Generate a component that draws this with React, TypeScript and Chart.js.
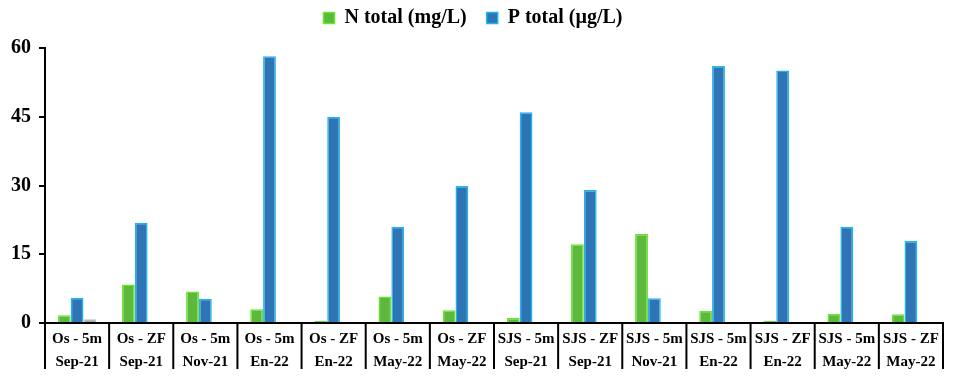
import React, { useEffect, useRef } from "react";
import { Chart, registerables } from "chart.js";

Chart.register(...registerables);

const siteLabels = ["Os - 5m", "Os - ZF", "Os - 5m", "Os - 5m", "Os - ZF", "Os - 5m", "Os - ZF", "SJS - 5m", "SJS - ZF", "SJS - 5m", "SJS - 5m", "SJS - ZF", "SJS - 5m", "SJS - ZF"];
const dateLabels = ["Sep-21", "Sep-21", "Nov-21", "En-22", "En-22", "May-22", "May-22", "Sep-21", "Sep-21", "Nov-21", "En-22", "En-22", "May-22", "May-22"];
const nTotal = [1.7, 8.4, 6.9, 3.0, 0.5, 5.8, 2.8, 1.1, 17.2, 19.4, 2.7, 0.5, 2.0, 1.9];
const pTotal = [5.5, 21.9, 5.3, 58.2, 45.0, 21.0, 29.9, 46.0, 29.0, 5.4, 56.1, 55.1, 21.0, 17.9];
const extra = [0.8, null, null, null, null, null, null, null, null, null, null, null, null, null];
const yTicks = [0, 15, 30, 45, 60];

const FONT = "'Liberation Serif', 'Times New Roman', serif";

const separators = {
  id: "separators",
  afterDraw(chart: any) {
    const xs = chart.scales.x;
    const n = chart.data.labels.length;
    const step = xs.getPixelForValue(1) - xs.getPixelForValue(0);
    const ctx = chart.ctx;
    const b = chart.chartArea.bottom;
    ctx.save();
    ctx.strokeStyle = "#000";
    ctx.lineWidth = 2;
    ctx.beginPath();
    for (let i = 0; i <= n; i++) {
      const x = xs.getPixelForValue(0) - step / 2 + i * step;
      ctx.moveTo(x, b);
      ctx.lineTo(x, b + 46);
    }
    ctx.stroke();
    ctx.restore();
  },
};

const legendSpace = {
  id: "legendSpace",
  beforeInit(chart: any) {
    const lg = chart.legend;
    if (!lg) return;
    const orig = lg.fit;
    lg.fit = function () {
      orig.bind(lg)();
      this.height += 10;
    };
  },
};

export default function App() {
  const ref = useRef<HTMLCanvasElement | null>(null);
  useEffect(() => {
    if (!ref.current) return;
    const labels = siteLabels.map((s, i) => [s, dateLabels[i]]);
    const chart = new Chart(ref.current, {
      type: "bar",
      data: {
        labels,
        datasets: [
          { label: "N total (mg/L)", data: nTotal, backgroundColor: "#5DB83C", borderColor: "#66E62E", borderWidth: 1.5 },
          { label: "P total (µg/L)", data: pTotal, backgroundColor: "#2E75B6", borderColor: "#1FB5F0", borderWidth: 1.5 },
          { label: "extra", data: extra, backgroundColor: "#A6A6A6", borderColor: "#BFBFBF", borderWidth: 1 },
        ],
      },
      plugins: [separators, legendSpace],
      options: {
        animation: false,
        responsive: true,
        maintainAspectRatio: false,
        layout: { padding: { left: 3, right: 14, top: -12, bottom: -2 } },
        datasets: { bar: { categoryPercentage: 0.6, barPercentage: 1.0 } },
        plugins: {
          tooltip: { enabled: false },
          legend: {
            position: "top",
            labels: {
              filter: (item: any) => item.datasetIndex < 2,
              boxWidth: 11,
              boxHeight: 11,
              padding: 20,
              color: "#000",
              font: { family: FONT, size: 20, weight: "bold" },
            },
          },
        },
        scales: {
          x: {
            offset: true,
            grid: { drawOnChartArea: false, drawTicks: false, color: "#000", lineWidth: 2, offset: true },
            border: { display: true, color: "#000", width: 2 },
            ticks: {
              color: "#000",
              padding: 5,
              maxRotation: 0,
              autoSkip: false,
              font: { family: FONT, size: 15, weight: "bold", lineHeight: 1.5 },
            },
          },
          y: {
            min: 0,
            max: 60,
            afterBuildTicks: (axis: any) => { axis.ticks = yTicks.map((v) => ({ value: v })); },
            grid: { drawOnChartArea: false, drawTicks: true, tickLength: 6, color: "#000", lineWidth: 2 },
            border: { display: true, color: "#000", width: 2 },
            ticks: {
              color: "#000",
              padding: 8,
              font: { family: FONT, size: 20, weight: "bold" },
            },
          },
        },
      },
    });
    return () => chart.destroy();
  }, []);
  return (
    <div style={{ position: "absolute", left: 0, top: 0, width: 957, height: 376, background: "#fff" }}>
      <canvas ref={ref} />
    </div>
  );
}
